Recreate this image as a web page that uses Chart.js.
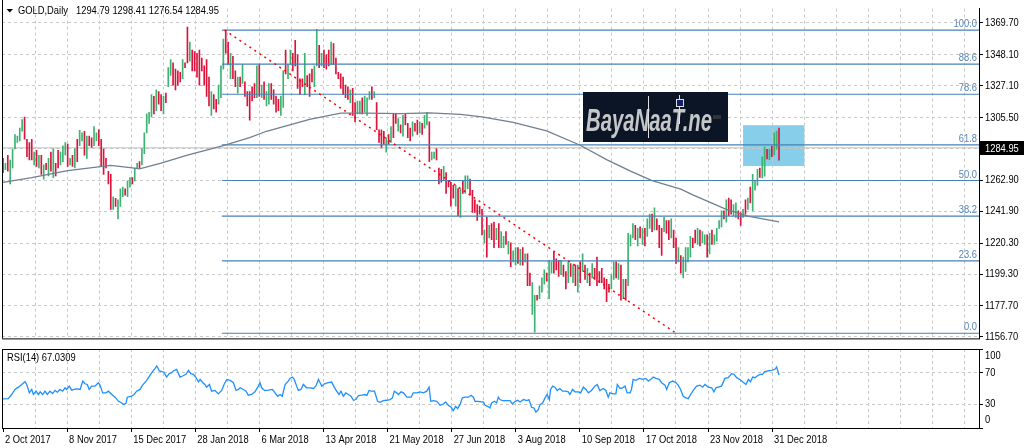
<!DOCTYPE html>
<html>
<head>
<meta charset="utf-8">
<title>GOLD Daily</title>
<script src="https://cdn.jsdelivr.net/npm/chart.js@4.4.0/dist/chart.umd.min.js"></script>
<style>
  html, body { margin: 0; padding: 0; background: #fff; }
  #wrap { position: relative; width: 1025px; height: 448px; overflow: hidden; }
  #priceBox { position: absolute; left: 0; top: 0; width: 1025px; height: 347px; }
  #rsiBox { position: absolute; left: 0; top: 347px; width: 1025px; height: 101px; }
</style>
</head>
<body>
<div id="wrap">
  <div id="priceBox"><canvas id="priceChart" width="1025" height="347"></canvas></div>
  <div id="rsiBox"><canvas id="rsiChart" width="1025" height="101"></canvas></div>
</div>
<script>
// ---- data (one entry per daily bar, 2 Oct 2017 -> 4 Jan 2019) ----
const highs = [
  // Oct 2017 - Feb 2018
  1277.8,1274.5,1279.9,1276.7,1284.3,1294.0,1292.9,1298.3,1304.2,1305.9,
  1290.8,1288.6,1290.8,1282.1,1283.2,1279.9,1279.9,1273.4,1274.5,1277.8,
  1282.1,1284.3,1274.5,1283.2,1282.1,1286.4,1288.6,1287.5,1277.8,1279.9,
  1284.3,1290.8,1296.8,1295.1,1296.2,1292.9,1292.9,1291.8,1299.4,1295.1,
  1297.2,1290.8,1284.3,1277.8,1269.1,1267.0,1251.8,1250.7,1249.7,1257.2,
  1258.3,1257.2,1262.6,1264.8,1264.8,1271.3,1274.5,1275.6,1284.3,1295.1,
  1308.0,1309.1,1321.0,1319.9,1324.3,1323.2,1321.0,1319.9,1322.1,1339.4,
  1344.8,1342.6,1338.3,1337.2,1336.1,1344.8,1342.6,1366.8,1356.7,1351.3,
  1350.2,1349.1,1351.3,1345.9,1340.5,1344.8,1332.9,1323.2,1321.0,1317.8,
  1327.5,1340.5,1358.8,1364.8,1356.7,1349.1,1347.0,1337.2,1332.9,1332.9,
  1341.6,1329.7,1323.2,
  // Mar 2018 - Jun 2018
  1323.2,1326.4,1328.6,1340.5,1341.6,1327.5,1329.7,1323.2,1328.6,1328.6,
  1324.3,1320.0,1317.8,1320.0,1337.2,1351.3,1341.6,1351.3,1349.1,1357.8,
  1348.0,1331.8,1331.8,1349.1,1334.0,1335.1,1338.3,1340.5,1365.3,1354.5,
  1349.1,1351.3,1348.0,1351.3,1356.7,1355.6,1345.9,1336.1,1335.1,1332.9,
  1327.5,1326.4,1324.3,1325.3,1315.6,1316.7,1316.7,1318.9,1320.0,1318.9,
  1323.2,1326.4,1323.2,1315.6,1297.2,1297.2,1296.2,1291.8,1294.0,1299.4,
  1308.0,1308.0,1304.8,1300.5,1307.0,1308.0,1301.6,1298.3,1302.6,1301.6,
  1303.7,1302.6,1301.6,1307.0,1309.1,1302.6,1282.1,1282.1,1284.3,
  // Jun 2018 - Dec 2018
  1271.3,1270.3,1272.4,1268.1,1262.7,1261.6,1259.5,1259.5,1257.3,1257.3,
  1262.7,1265.9,1265.9,1263.8,1256.2,1249.7,1246.5,1245.4,1243.2,1229.2,
  1237.8,1232.4,1233.5,1234.6,1230.3,1233.5,1228.1,1224.9,1228.1,1221.6,
  1220.5,1215.1,1217.3,1217.3,1216.2,1217.3,1213.0,1213.0,1200.0,1193.5,
  1184.9,1184.9,1191.4,1196.8,1202.2,1200.0,1208.7,1207.6,1214.1,1209.7,
  1208.7,1208.7,1205.4,1201.1,1207.6,1206.5,1205.4,1205.4,1205.4,1207.6,
  1213.0,1205.4,1203.2,1200.0,1206.5,1203.2,1210.8,1201.1,1203.2,1196.8,
  1195.7,1192.4,1198.9,1207.6,1207.6,1206.5,1205.4,1195.7,1195.7,1227.0,
  1225.9,1233.5,1232.4,1230.3,1231.3,1230.3,1230.3,1236.8,1240.0,1240.0,
  1244.3,1236.8,1232.4,1230.3,1237.8,1235.7,1235.7,1236.8,1229.2,1223.8,
  1217.3,1211.9,1210.8,1217.3,1217.3,1224.9,1223.8,1229.2,1230.3,1229.2,
  1228.1,1225.9,1225.9,1227.0,1229.2,1225.9,1230.3,1235.7,1242.2,1242.2,
  1249.7,1250.8,1249.7,1246.5,1247.6,1242.2,1241.1,1243.2,1249.7,1250.8,
  1258.4,1267.0,1262.7,1270.3,1271.3,
  // end of Dec 2018 - 4 Jan 2019
  1278.9,1285.4,1284.0,1284.1,1286.0,1295.1,1296.4,1298.41
];
const lows = [
  1268.1,1270.2,1269.1,1260.5,1271.3,1284.3,1288.6,1289.7,1296.2,1290.8,
  1278.9,1276.7,1276.7,1273.4,1272.4,1271.3,1267.0,1263.7,1270.2,1265.9,
  1269.1,1264.8,1265.9,1271.3,1273.4,1275.6,1279.9,1272.4,1273.4,1272.4,
  1271.3,1275.6,1286.4,1289.7,1279.9,1277.8,1286.4,1285.3,1286.4,1289.7,
  1286.4,1272.4,1267.0,1271.3,1260.5,1243.2,1243.2,1245.3,1236.7,1245.3,
  1251.8,1252.9,1251.8,1258.3,1260.5,1262.6,1271.3,1271.3,1273.4,1281.0,
  1295.1,1301.6,1305.9,1308.0,1310.2,1314.5,1310.2,1308.0,1315.6,1326.4,
  1334.0,1327.5,1324.3,1327.5,1329.7,1331.8,1339.4,1342.6,1343.7,1337.2,
  1337.2,1332.9,1327.5,1337.2,1327.5,1319.9,1313.4,1307.0,1311.3,1309.1,
  1314.5,1318.9,1338.3,1349.1,1341.6,1331.8,1331.8,1326.4,1322.1,1326.4,
  1328.6,1319.9,1313.4,
  1303.7,1316.7,1318.9,1318.9,1319.9,1318.9,1317.8,1313.4,1314.5,1317.8,
  1314.5,1309.1,1310.2,1307.0,1312.4,1335.1,1331.8,1341.6,1337.2,1340.5,
  1325.3,1321.0,1326.4,1321.0,1326.4,1319.9,1329.7,1326.4,1340.5,1339.4,
  1340.5,1339.4,1338.3,1340.5,1341.6,1341.6,1335.1,1331.8,1325.3,1321.0,
  1318.9,1317.8,1315.6,1307.0,1302.6,1308.0,1308.0,1308.0,1309.1,1307.0,
  1317.8,1317.8,1318.9,1297.2,1288.6,1285.3,1287.5,1282.1,1287.5,1288.6,
  1291.8,1301.6,1296.2,1295.1,1292.9,1300.5,1291.8,1289.7,1292.9,1296.2,
  1294.0,1295.1,1294.0,1298.3,1300.5,1275.6,1276.7,1277.8,1276.7,
  1260.5,1261.6,1262.7,1254.0,1258.4,1245.4,1250.8,1245.4,1238.9,1237.8,
  1254.0,1254.0,1257.3,1253.0,1241.1,1241.1,1235.7,1240.0,1225.9,1220.5,
  1210.8,1223.8,1222.7,1217.3,1222.7,1217.3,1217.3,1217.3,1219.5,1213.0,
  1204.3,1207.6,1205.4,1206.5,1205.4,1205.4,1207.6,1191.4,1191.4,1171.9,
  1160.0,1181.6,1182.7,1187.0,1192.4,1194.6,1182.7,1200.0,1200.0,1202.2,
  1197.8,1198.9,1197.8,1189.2,1193.5,1197.8,1193.5,1191.4,1187.0,1193.5,
  1201.1,1195.7,1193.5,1191.4,1196.8,1195.7,1191.4,1193.5,1193.5,1189.2,
  1180.6,1187.0,1189.2,1195.7,1196.8,1195.7,1181.6,1182.7,1181.6,1191.4,
  1218.4,1223.8,1222.7,1218.4,1223.8,1219.5,1218.4,1224.9,1230.3,1228.1,
  1229.2,1229.2,1217.3,1211.9,1228.1,1227.0,1222.7,1223.8,1217.3,1206.5,
  1207.6,1200.0,1196.8,1201.1,1207.6,1210.8,1217.3,1220.5,1219.5,1218.4,
  1220.5,1219.5,1210.8,1213.0,1219.5,1219.5,1221.6,1230.3,1231.3,1236.8,
  1234.6,1238.9,1240.0,1238.9,1237.8,1236.8,1232.4,1237.8,1240.0,1243.2,
  1247.6,1242.2,1256.2,1259.5,1264.9,
  1264.6,1265.7,1277.5,1276.9,1279.0,1280.2,1284.1,1276.54
];
// 1 = bar closed up (green), 0 = closed down (red)
const upDays =
  "0101111110" + "0001010101" + "0100111010" + "1011010011" + "0000001011" +
  "1011011011" + "1110100101" + "1000010010" + "0000000100" + "1110010010" + "100" +
  "0001010110" + "0001101100" + "0001000110" + "1000100000" + "0010011011" +
  "1010000101" + "0010100010" + "010110110" +
  "0010000101" + "0110000001" + "0100101101" + "0110101001" + "1011101100" +
  "0100101010" + "1010100000" + "0011010101" + "1101010110" + "1000100100" +
  "1011110010" + "1101011110" + "1001100101" + "01110" +
  "11010110";

// moving average (grey line), sampled at bar indexes
const maIdx = [0,12,27,45,54,57,66,77,92,103,110,128,141,152,166,178,191,200,213,227,241,252,262,271,283,288,302,311,324];
const maVal = [1261.6,1264.8,1269.5,1273.1,1271.3,1270.7,1274.6,1280.0,1286.5,1291.9,1296.2,1304.2,1308.5,1308.5,1308.1,1308.7,1307.6,1305.9,1302.3,1296.4,1286.7,1277.0,1269.2,1262.7,1256.9,1253.0,1243.2,1238.7,1234.8];

// red dotted trend line
const trendIdx = [92.5, 280.5];
const trendVal = [1364.8, 1159.8];

// fibonacci retracement
const fibStartIdx = 91.4;
const fibNames = ["0.0","23.6","38.2","50.0","61.8","78.6","88.6","100.0"];
const fibPrices = [1159.2,1208.3,1238.6,1262.8,1287.0,1321.3,1341.7,1364.8];

// light blue rectangle
const boxIdx = [309, 334.6];
const boxPrice = [1300.3, 1272.6];

const lastClose = 1284.95;
const priceTicks = [1369.70,1348.10,1327.10,1305.50,1284.50,1262.90,1241.90,1220.30,1199.30,1177.70,1156.70];

// RSI(14)
const rsiX = [
  0,2.2,3.6,5.0,6.4,7.8,9.2,9.9,11.0,12.0,12.7,13.8,14.8,15.5,16.6,17.5,18.5,19.6,20.7,21.7,
  22.7,23.8,24.9,25.9,26.6,27.7,28.7,29.6,31.0,32.2,33.3,34.2,35.2,36.0,37.0,38.4,39.8,40.5,41.6,43.0,
  44.0,45.4,46.8,48.2,49.6,50.5,51.4,51.9,53.7,54.7,55.8,57.2,58.3,60.0,62.1,63.5,64.2,65.3,66.3,67.2,
  68.3,69.4,70.4,71.1,72.5,73.9,75.0,76.4,77.4,78.4,79.5,80.6,81.6,82.3,83.4,84.3,85.0,86.2,87.1,88.5,
  89.9,91.3,92.3,93.4,94.8,96.2,97.3,98.3,99.0,100.4,101.5,102.4,103.8,105.2,106.6,107.3,108.0,108.7,
  109.4,110.8,112.5,113.6,114.7,115.7,116.6,117.1,117.8,119.1,119.8,120.8,121.6,122.6,123.3,124.4,125.4,126.8,128.2,129.6,
  130.6,131.7,132.4,133.1,134.2,135.8,137.2,138.3,139.3,140.3,141.1,142.1,143.1,144.2,145.3,146.3,147.3,148.4,149.8,151.2,
  151.9,152.8,153.7,155.1,156.4,157.4,158.8,160.2,161.6,162.6,163.4,164.4,165.1,166.2,167.2,168.6,170.4,171.3,172.7,174.1,
  175.5,176.9,177.9,178.6,179.7,181.1,182.5,183.9,184.8,185.9,187.1,188.0,189.0,189.8,190.8,191.8,192.9,194.3,195.4,196.4,
  197.1,198.2,199.6,200.6,201.3,202.4,203.3,204.0,205.2,206.1,206.8,207.5,208.5,210.3,211.7,212.7,213.8,214.9,215.9,217.3,
  218.7,219.6,
  220.7,221.7,222.5,223.5,224.2,225.3,226.3,227.2,228.1,228.6,229.5,230.4,231.4,232.5,233.6,235.0,236.0,236.7,237.8,238.8,
  240.2,241.2,242.3,243.4,244.4,245.7,247.1,248.1,249.2,250.6,251.7,252.7,253.4,254.8,255.9,256.5,257.6,258.7,259.7,260.6,
  261.8,262.4,263.1,264.3,265.7,267.0,268.4,269.4,270.4,271.5,272.6,274.0,275.0,276.4,277.1,278.2,279.6,281.0,281.9,282.9,
  284.0,285.1,286.1,287.1,288.2,289.6,291.0,292.1,293.1,294.5,295.9,296.8,297.7,298.6,300.0,301.4,302.8,304.2,305.2,306.3,
  307.7,308.8,310.2,311.2,312.1,313.0,313.9,314.9,316.0,317.1,318.1,319.5,320.9,322.3,323.0,324
];
const rsiY = [
  36.8,37.2,42.4,48.8,51.7,55.1,58.5,55.1,44.5,48.8,42.4,46.6,42.4,45.8,42.4,46.6,42.4,46.6,43.6,47.5,
  45.3,48.8,46.6,50.9,48.8,53.0,47.9,48.8,49.6,48.8,59.4,56.0,55.1,48.8,53.0,53.0,57.3,54.3,44.5,44.5,
  46.6,42.4,39.0,33.8,31.7,29.6,31.7,39.0,40.2,42.4,46.6,48.8,54.3,60.3,70.0,75.6,78.6,72.2,71.3,70.9,
  64.5,68.8,70.0,72.2,74.3,64.5,65.8,67.9,73.0,68.8,67.9,63.7,58.5,61.5,57.3,55.1,51.7,55.1,46.6,47.5,
  43.2,47.5,55.1,61.5,60.3,57.3,47.5,48.8,50.9,48.8,46.6,41.5,42.4,45.8,53.0,57.3,50.9,48.8,
  47.5,47.9,48.8,44.5,40.2,42.4,40.2,46.6,55.1,59.4,62.8,64.5,61.5,53.0,47.5,48.8,55.1,50.9,50.9,50.0,
  53.0,61.5,57.3,53.0,56.0,57.3,58.1,51.7,46.6,42.4,46.6,40.2,44.5,42.4,40.2,35.1,36.0,41.1,41.5,42.4,
  41.1,47.5,46.6,46.6,33.8,32.6,34.7,35.1,36.0,38.1,46.6,44.5,42.4,45.8,44.5,39.0,39.0,44.5,44.5,45.8,
  44.5,46.6,51.7,33.8,34.7,33.8,28.7,30.4,33.0,28.7,26.2,21.9,27.4,24.5,29.6,38.1,39.0,39.0,41.5,39.0,
  33.8,33.8,33.0,33.0,28.7,27.4,25.3,31.7,33.8,31.7,39.0,36.0,34.7,34.7,34.7,30.4,33.8,35.1,33.0,36.0,
  34.7,36.0,
  26.2,25.3,20.2,23.2,29.6,31.7,38.1,42.4,36.0,48.8,53.0,51.7,47.5,50.0,46.6,46.6,45.8,42.4,48.8,45.8,
  45.8,44.5,51.7,48.8,44.5,47.5,53.0,55.1,47.5,50.0,47.5,39.0,44.5,43.2,43.2,55.1,50.0,50.9,53.0,44.5,
  44.5,48.8,61.5,60.3,62.8,61.5,62.8,59.4,61.5,64.5,62.8,61.5,57.3,54.3,48.8,57.3,59.4,57.3,54.3,48.8,
  40.2,38.1,37.2,42.4,47.5,53.0,54.3,51.7,55.1,51.7,50.9,45.8,50.9,51.7,53.0,62.8,63.7,68.8,67.9,63.7,
  61.5,58.5,55.1,61.5,58.5,64.5,63.7,65.8,67.9,67.9,71.3,72.2,73.0,74.3,77.3,67.03
];
const rsiLevels = [0, 30, 70, 100];

const dateLabels = ["2 Oct 2017","8 Nov 2017","15 Dec 2017","28 Jan 2018","6 Mar 2018","13 Apr 2018",
  "21 May 2018","27 Jun 2018","3 Aug 2018","10 Sep 2018","17 Oct 2018","23 Nov 2018","31 Dec 2018"];

if (highs.length !== lows.length || highs.length !== upDays.length || rsiX.length !== rsiY.length) {
  throw new Error("length mismatch " + highs.length + " " + lows.length + " " + upDays.length + " " + rsiX.length + " " + rsiY.length);
}

// ---- look ----
const FONT = "'Liberation Sans', Arial, sans-serif";
const UP = "#3CB371", DOWN = "#DC143C", GRID = "#c8c8c8", FIB = "#4682B4";
const X_MIN = -0.42, X_MAX = 407.5;
const GRID_STEP = 13.38; // one vertical grid line every 13.38 bars, a date label every second one
const gridIdx = [];
for (let k = 0; k * GRID_STEP <= X_MAX; k++) gridIdx.push(k * GRID_STEP);

Chart.defaults.font.family = FONT;
Chart.defaults.font.size = 11;
Chart.defaults.color = "#000";

// the terminal uses a narrow font: squeeze every text drawn on the canvases a little
const narrowText = {
  id: "narrowText",
  beforeInit(chart) {
    const ctx = chart.ctx;
    const fill = ctx.fillText.bind(ctx);
    ctx.fillText = (t, x, y, mw) =>
      fill(t, x, y, mw !== undefined ? mw : ctx.measureText(t).width * 0.85);
  },
};

const xScale = (showLabels) => ({
  type: "linear",
  min: X_MIN,
  max: X_MAX,
  offset: false,
  afterBuildTicks: (s) => { s.ticks = gridIdx.map((v) => ({ value: v })); },
  afterFit: (s) => { s.height = showLabels ? 20 : 0; },
  ticks: {
    display: showLabels,
    autoSkip: false,
    maxRotation: 0,
    align: "start",
    labelOffset: 2,
    padding: 1,
    callback: (v, i) => (i % 2 === 0 && dateLabels[i / 2]) ? dateLabels[i / 2] : "",
  },
  grid: {
    offset: false,
    color: (ctx) => (ctx.index === 0 ? "rgba(0,0,0,0)" : GRID),
    drawTicks: showLabels,
    tickLength: 4,
    tickColor: (ctx) => (ctx.index % 2 === 0 && ctx.index / 2 < dateLabels.length ? "#000" : "rgba(0,0,0,0)"),
  },
  border: { display: showLabels, color: "#000", dash: [3, 3] },
});

// ---- plugins for the price panel ----
const blueBox = {
  id: "blueBox",
  beforeDraw(chart) {
    const { ctx, scales: { x, y } } = chart;
    const x0 = x.getPixelForValue(boxIdx[0]), x1 = x.getPixelForValue(boxIdx[1]);
    const y0 = y.getPixelForValue(boxPrice[0]), y1 = y.getPixelForValue(boxPrice[1]);
    ctx.save();
    ctx.fillStyle = "#87CEEB";
    ctx.fillRect(x0, y0, x1 - x0, y1 - y0);
    ctx.restore();
  },
};

const priceOverlay = {
  id: "priceOverlay",
  afterDatasetsDraw(chart) {
    const { ctx, chartArea, scales: { y } } = chart;
    ctx.save();
    // fibo level names
    ctx.font = "11px " + FONT;
    ctx.fillStyle = "#5585b8";
    ctx.textAlign = "right";
    ctx.textBaseline = "alphabetic";
    fibPrices.forEach((p, i) => {
      ctx.fillText(fibNames[i], chartArea.right - 2, y.getPixelForValue(p) - 3);
    });
    // watermark logo
    ctx.fillStyle = "#0b1526";
    ctx.fillRect(583, 92, 145, 50);
    ctx.font = "italic bold 31px " + FONT;
    const txt = "BayaNaaT.ne";
    const w = ctx.measureText(txt).width;
    ctx.translate(586, 131);
    ctx.scale(126 / w, 1);
    ctx.fillStyle = "#c4c6c8";
    ctx.textAlign = "left";
    ctx.fillText(txt, 0, 0, w);
    ctx.setTransform(1, 0, 0, 1, 0, 0);
    ctx.strokeStyle = "#e0e0e0";
    ctx.lineWidth = 1;
    ctx.beginPath();
    ctx.moveTo(648.5, 96); ctx.lineTo(648.5, 138);
    ctx.moveTo(679.5, 95); ctx.lineTo(679.5, 124);
    ctx.stroke();
    ctx.fillStyle = "#10206a";
    ctx.fillRect(676, 99, 8, 8);
    ctx.strokeRect(676.5, 99.5, 7, 7);
    ctx.fillStyle = "#333";
    ctx.fillRect(713, 115, 8, 4);
    ctx.restore();
  },
  afterDraw(chart) {
    const { ctx, chartArea, scales: { y } } = chart;
    ctx.save();
    // frame
    ctx.strokeStyle = "#000";
    ctx.lineWidth = 1;
    ctx.beginPath();
    ctx.moveTo(2.5, 0); ctx.lineTo(2.5, chartArea.bottom);
    ctx.moveTo(2, chartArea.bottom + 0.5); ctx.lineTo(chartArea.right + 1, chartArea.bottom + 0.5);
    ctx.stroke();
    // current price tag
    const py = Math.round(y.getPixelForValue(lastClose));
    ctx.fillStyle = "#000";
    ctx.fillRect(chartArea.right + 1, py - 7, 44, 14);
    ctx.fillStyle = "#fff";
    ctx.font = "11px " + FONT;
    ctx.textBaseline = "middle";
    ctx.fillText(lastClose.toFixed(2), chartArea.right + 6, py + 0.5);
    // header
    ctx.fillStyle = "#000";
    ctx.beginPath();
    ctx.moveTo(6.5, 9); ctx.lineTo(13, 9); ctx.lineTo(9.75, 12.5); ctx.closePath();
    ctx.fill();
    ctx.fillText("GOLD,Daily", 18, 11);
    ctx.fillText("1294.79 1298.41 1276.54 1284.95", 76, 11);
    ctx.restore();
  },
};

new Chart(document.getElementById("priceChart"), {
  type: "bar",
  data: {
    datasets: [
      {
        type: "bar",
        data: highs.map((h, i) => ({ x: i, y: [lows[i], h] })),
        backgroundColor: highs.map((h, i) => (upDays[i] === "1" ? UP : DOWN)),
        barThickness: 1,
        grouped: false,
        order: 3,
      },
      {
        type: "line",
        data: maIdx.map((x, i) => ({ x: x, y: maVal[i] })),
        borderColor: "#708090",
        borderWidth: 1.3,
        pointRadius: 0,
        order: 1,
      },
      {
        type: "line",
        data: trendIdx.map((x, i) => ({ x: x, y: trendVal[i] })),
        borderColor: "#ff0000",
        borderWidth: 1.5,
        borderDash: [2, 4],
        pointRadius: 0,
        order: 0,
      },
      ...fibPrices.map((p) => ({
        type: "line",
        data: [{ x: fibStartIdx, y: p }, { x: X_MAX, y: p }],
        borderColor: FIB,
        borderWidth: 1.2,
        pointRadius: 0,
        order: 2,
      })),
      {
        type: "line",
        data: [{ x: X_MIN, y: lastClose }, { x: X_MAX, y: lastClose }],
        borderColor: "#c0c0c0",
        borderWidth: 1,
        pointRadius: 0,
        order: 5,
      },
    ],
  },
  options: {
    responsive: false,
    animation: false,
    events: [],
    layout: { padding: { left: 2, top: 0, right: 0, bottom: 1 } },
    plugins: { legend: { display: false }, tooltip: { enabled: false } },
    scales: {
      x: xScale(false),
      y: {
        position: "right",
        min: 1155.7,
        max: 1379.4,
        afterBuildTicks: (s) => { s.ticks = priceTicks.map((v) => ({ value: v })); },
        afterFit: (s) => { s.width = 46; },
        ticks: {
          padding: 2,
          callback: (v) => Number(v).toFixed(2),
        },
        grid: { color: GRID, tickColor: "#000", tickLength: 4 },
        border: { display: true, color: "#000", dash: [3, 3] },
      },
    },
  },
  plugins: [narrowText, blueBox, priceOverlay],
});

// ---- RSI panel ----
const rsiOverlay = {
  id: "rsiOverlay",
  afterDraw(chart) {
    const { ctx, chartArea, scales: { y } } = chart;
    ctx.save();
    ctx.font = "11px " + FONT;
    ctx.fillStyle = "#000";
    ctx.textBaseline = "middle";
    rsiLevels.forEach((v) => {
      let py = y.getPixelForValue(v);
      py = Math.min(Math.max(py, chartArea.top + 7), chartArea.bottom - 8);
      ctx.fillText(String(v), chartArea.right + 6, py);
    });
    ctx.fillText("RSI(14) 67.0309", 7, chartArea.top + 9);
    ctx.strokeStyle = "#000";
    ctx.lineWidth = 1;
    ctx.beginPath();
    ctx.moveTo(2.5, chartArea.top); ctx.lineTo(2.5, chartArea.bottom);
    ctx.moveTo(2, chartArea.top + 0.5); ctx.lineTo(chartArea.right + 1, chartArea.top + 0.5);
    ctx.stroke();
    ctx.restore();
  },
};

new Chart(document.getElementById("rsiChart"), {
  type: "line",
  data: {
    datasets: [
      {
        data: rsiX.map((x, i) => ({ x: x, y: rsiY[i] })),
        borderColor: "#1E90FF",
        borderWidth: 1.3,
        pointRadius: 0,
        tension: 0,
      },
    ],
  },
  options: {
    responsive: false,
    animation: false,
    events: [],
    layout: { padding: { left: 2, top: 2, right: 0, bottom: 0 } },
    plugins: { legend: { display: false }, tooltip: { enabled: false } },
    scales: {
      x: xScale(true),
      y: {
        position: "right",
        min: 0,
        max: 100,
        afterBuildTicks: (s) => { s.ticks = rsiLevels.map((v) => ({ value: v })); },
        afterFit: (s) => { s.width = 46; },
        ticks: { display: false },
        grid: {
          color: (ctx) => (ctx.tick && (ctx.tick.value === 30 || ctx.tick.value === 70) ? GRID : "rgba(0,0,0,0)"),
          tickColor: "#000",
          tickLength: 4,
        },
        border: { display: true, color: "#000", dash: [3, 3] },
      },
    },
  },
  plugins: [narrowText, rsiOverlay],
});
</script>
</body>
</html>
